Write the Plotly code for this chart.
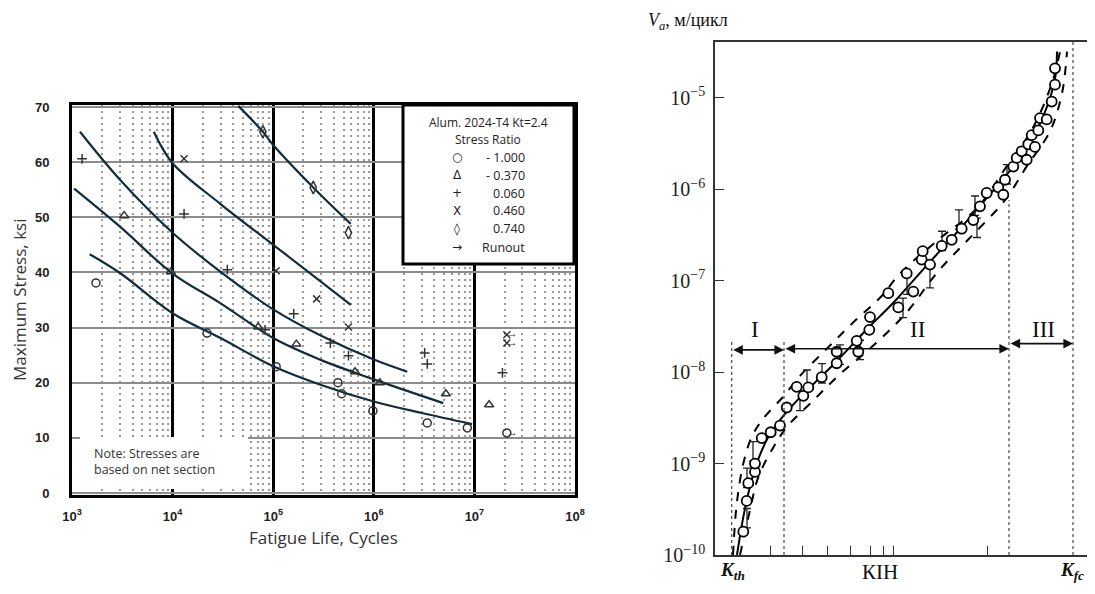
import numpy as np
import plotly.graph_objects as go

# ---------------- Left chart data (S-N, Alum. 2024-T4, Kt=2.4) ----------------
life_r_m100 = [1.73e3, 2.2e4, 1.07e5, 4.4e5, 4.8e5, 9.8e5, 3.4e6, 8.5e6, 2.1e7]
stress_r_m100 = [38.1, 29.0, 22.9, 20.0, 18.0, 14.9, 12.7, 11.8, 10.9]

life_r_m037 = [3.3e3, 9.6e3, 7.1e4, 1.7e5, 6.5e5, 1.15e6, 5.2e6, 1.4e7]
stress_r_m037 = [50.3, 40.1, 30.1, 27.0, 22.0, 20.0, 18.0, 16.0]

life_r_006 = [1.26e3, 1.3e4, 3.5e4, 8.3e4, 1.6e5, 3.7e5, 5.6e5, 3.2e6, 3.4e6, 1.9e7]
stress_r_006 = [60.6, 50.6, 40.5, 29.6, 32.5, 27.2, 24.9, 25.4, 23.4, 21.8]

life_r_046 = [1.3e4, 1.07e5, 2.7e5, 5.6e5, 2.1e7, 2.1e7]
stress_r_046 = [60.6, 40.3, 35.2, 30.1, 28.7, 27.2]

life_r_074 = [7.9e4, 2.5e5, 5.6e5]
stress_r_074 = [65.5, 55.4, 47.2]

runout_life = [2.1e7, 2.1e7, 2.1e7]
runout_stress = [28.7, 27.2, 10.9]

# fitted curves
curve_r074_life = [4.5e4, 7.9e4, 1e5, 2.5e5, 5.9e5]
curve_r074_stress = [70.2, 65.5, 63.1, 55.4, 48.8]
curve_r046_life = [6.5e3, 1e4, 3e4, 1e5, 3e5, 5.9e5]
curve_r046_stress = [65.5, 59.8, 52.4, 45.0, 38.3, 34.1]
curve_r006_life = [1.2e3, 3e3, 1e4, 3e4, 1e5, 3e5, 1e6, 2.15e6]
curve_r006_stress = [65.5, 56.8, 47.2, 40.1, 33.3, 28.5, 24.2, 22.0]
curve_rm037_life = [1.05e3, 3e3, 1e4, 3e4, 1e5, 3e5, 1e6, 4.9e6]
curve_rm037_stress = [55.2, 48.3, 39.8, 34.4, 28.1, 24.1, 20.6, 16.3]
curve_rm100_life = [1.5e3, 3e3, 1e4, 3e4, 1e5, 3e5, 1e6, 3e6, 9.5e6]
curve_rm100_stress = [43.3, 39.9, 32.6, 28.1, 23.0, 19.6, 16.6, 14.5, 12.5]

stress_ticks = [0, 10, 20, 30, 40, 50, 60, 70]
life_ticks = [1e3, 1e4, 1e5, 1e6, 1e7, 1e8]
life_tick_text = ["<b>10<sup>3</sup></b>", "<b>10<sup>4</sup></b>", "<b>10<sup>5</sup></b>",
                  "<b>10<sup>6</sup></b>", "<b>10<sup>7</sup></b>", "<b>10<sup>8</sup></b>"]

legend_symbols = ["○", "Δ", "+", "X", "◊", "→"]
legend_values = ["- 1.000", "- 0.370", "0.060", "0.460", "0.740", "Runout"]

# ---------------- Right chart data (crack growth rate vs KIH) ----------------
dk_points = [2.83, 3.17, 3.33, 4.0, 4.0, 4.67, 5.57, 6.5, 7.17, 8.17, 8.83, 9.33, 10.67,
             12.17, 12.17, 14.17, 14.33, 15.43, 15.5, 17.33, 18.33, 19.83, 19.17, 20.67,
             20.77, 21.5, 22.67, 23.67, 24.67, 25.83, 26.5, 27.17, 28.33, 28.83, 29.0,
             29.83, 30.17, 30.67, 31.17, 31.33, 31.67, 32.0, 32.33, 32.5, 33.17, 33.67,
             34.0, 34.0]
rate_points = [1.8e-10, 3.9e-10, 6.1e-10, 8.1e-10, 1.0e-9, 1.9e-9, 2.2e-9, 2.6e-9, 4.1e-9,
               6.9e-9, 5.5e-9, 6.8e-9, 8.8e-9, 1.25e-8, 1.67e-8, 2.2e-8, 1.67e-8, 2.9e-8,
               4.0e-8, 7.3e-8, 5.1e-8, 7.6e-8, 1.2e-7, 1.7e-7, 2.1e-7, 1.5e-7, 2.4e-7,
               2.8e-7, 3.7e-7, 4.6e-7, 6.5e-7, 9.1e-7, 1.05e-6, 8.7e-7, 1.27e-6, 1.77e-6,
               2.2e-6, 2.6e-6, 2.1e-6, 3.1e-6, 3.9e-6, 2.9e-6, 4.4e-6, 6.0e-6, 5.8e-6,
               9.1e-6, 1.39e-5, 2.1e-5]

dk_errbars = [3.2, 3.2, 3.8, 8.5, 9.2, 10.7, 12.5, 14.5, 18.8, 19.2, 21.5, 22.7, 24.4,
              26.0, 26.2, 29.2]
rate_errbars = [2.6e-10, 7.2e-10, 1.4e-9, 5.0e-9, 8.5e-9, 1.0e-8, 1.6e-8, 1.8e-8, 5.2e-8,
                9.3e-8, 1.1e-7, 2.8e-7, 4.8e-7, 6.8e-7, 3.9e-7, 1.5e-6]

mean_dk = [2.2, 2.8, 3.5, 4.3, 5.5, 7.0, 9.0, 12.0, 15.0, 18.0, 21.0, 24.0, 27.0, 29.5,
           31.5, 33.0, 34.0, 34.2]
mean_rate = [1e-10, 2.5e-10, 5.6e-10, 1.1e-9, 2.1e-9, 3.5e-9, 6e-9, 1.26e-8, 2.8e-8, 6e-8,
             1.4e-7, 3.2e-7, 7.6e-7, 1.6e-6, 3.2e-6, 7e-6, 1.6e-5, 3.2e-5]

upper_dk = [1.8, 2.17, 2.83, 3.67, 4.83, 6.83, 8.5, 11.17, 13.83, 16.67, 18.5, 22.5, 26.2,
            29.2, 31.7, 33.7, 34.5]
upper_rate = [1e-10, 3.6e-10, 1e-9, 1.95e-9, 3.1e-9, 5.4e-9, 9.1e-9, 1.8e-8, 3.5e-8, 6.8e-8,
              1.2e-7, 2.9e-7, 6.2e-7, 1.8e-6, 4.5e-6, 1.45e-5, 3.2e-5]

lower_dk = [2.5, 3.5, 4.33, 5.83, 7.17, 9.83, 12.5, 15.83, 19.17, 22.3, 25.3, 29.0, 31.2,
            33.5, 34.7, 35.2]
lower_rate = [1e-10, 3.1e-10, 7.1e-10, 1.5e-9, 2.5e-9, 4.9e-9, 9.5e-9, 1.95e-8, 4.5e-8,
              1.26e-7, 2.8e-7, 7.6e-7, 1.8e-6, 4.3e-6, 1.12e-5, 3.2e-5]

region_bounds = [1.67, 6.9, 29.4, 35.8]           # K_th, I/II, II/III, K_fc
region_line_tops = [2.2e-8, 2.3e-8, 7.6e-7]        # upper ends of the dotted bounds
region_arrow_rate = [1.75e-8, 1.8e-8, 2.05e-8]     # level of the arrows
region_labels = ["I", "II", "III"]
region_label_x = [4.0, 20.2, 32.8]
region_label_rate = 2.9e-8
rate_floor = 1e-10

rate_ticks = [1e-10, 1e-9, 1e-8, 1e-7, 1e-6, 1e-5]
rate_tick_text = ["10<sup>−10</sup>", "10<sup>−9</sup>", "10<sup>−8</sup>",
                  "10<sup>−7</sup>", "10<sup>−6</sup>", "10<sup>−5</sup>"]
kih_minor_ticks = [5.5, 8.7, 11.2, 13.5, 15.5, 16.8, 17.8, 27.2]

# ---------------- Figure geometry ----------------
# The page puts the figure 8 px in from the window corner; keep it small enough
# that no scrollbar appears.
OFF = 8
W, H = 1095 - 2 * OFF, 594 - 2 * OFF


def PX(px):
    return min(1.0, (px - OFF) / W)


def PY(py):
    return max(0.0, 1 - (py - OFF) / H)


# right chart x range chosen so that 10 px = 1 unit, starting at px 715
RX0, RX1 = 715, OFF + W
kih_range = [0, (RX1 - RX0) / 10.0]

fig = go.Figure()

CURVE = "#0f2d3d"
MK = "#333333"
curves = [(curve_r074_life, curve_r074_stress), (curve_r046_life, curve_r046_stress),
          (curve_r006_life, curve_r006_stress), (curve_rm037_life, curve_rm037_stress),
          (curve_rm100_life, curve_rm100_stress)]
for lx, ly in curves:
    fig.add_trace(go.Scatter(x=lx, y=ly, mode="lines", line=dict(color=CURVE, width=2.2, shape="spline"),
                             xaxis="x", yaxis="y", showlegend=False, hoverinfo="skip"))

series = [(life_r_m100, stress_r_m100, "circle-open", 8),
          (life_r_m037, stress_r_m037, "triangle-up-open", 8),
          (life_r_006, stress_r_006, "cross-thin-open", 7),
          (life_r_046, stress_r_046, "x-thin-open", 7),
          (life_r_074, stress_r_074, "diamond-tall-open", 9)]
for lx, ly, sym, sz in series:
    fig.add_trace(go.Scatter(x=lx, y=ly, mode="markers",
                             marker=dict(symbol=sym, size=sz, color=MK, line=dict(color=MK, width=1.5)),
                             xaxis="x", yaxis="y", showlegend=False))

fig.add_trace(go.Scatter(x=runout_life, y=runout_stress, mode="text", text=["→"] * len(runout_life),
                         textposition="middle right", textfont=dict(size=11, color=MK),
                         xaxis="x", yaxis="y", showlegend=False))

# Right chart traces
fig.add_trace(go.Scatter(x=upper_dk, y=upper_rate, mode="lines",
                         line=dict(color="black", width=2, dash="dash", shape="spline"),
                         xaxis="x2", yaxis="y2", showlegend=False))
fig.add_trace(go.Scatter(x=lower_dk, y=lower_rate, mode="lines",
                         line=dict(color="black", width=2, dash="dash", shape="spline"),
                         xaxis="x2", yaxis="y2", showlegend=False))
fig.add_trace(go.Scatter(x=mean_dk, y=mean_rate, mode="lines",
                         line=dict(color="black", width=2, shape="spline"),
                         xaxis="x2", yaxis="y2", showlegend=False))
fig.add_trace(go.Scatter(x=dk_errbars, y=rate_errbars, mode="markers",
                         marker=dict(size=1, color="rgba(0,0,0,0)"),
                         error_y=dict(type="percent", value=24, color="#222", thickness=1.3, width=4),
                         xaxis="x2", yaxis="y2", showlegend=False))
fig.add_trace(go.Scatter(x=dk_points, y=rate_points, mode="markers",
                         marker=dict(symbol="circle", size=10, color="white", line=dict(color="black", width=1.8)),
                         xaxis="x2", yaxis="y2", showlegend=False))

# dotted region boundaries
for xb, ytop in zip(region_bounds[:3], region_line_tops):
    fig.add_trace(go.Scatter(x=[xb, xb], y=[rate_floor, ytop], mode="lines",
                             line=dict(color="#444", width=1.2, dash="dot"),
                             xaxis="x2", yaxis="y2", showlegend=False, hoverinfo="skip"))

# ---------------- Layout ----------------
fig.update_layout(
    width=W, height=H, autosize=False,
    margin=dict(l=0, r=0, t=0, b=0, pad=0, autoexpand=False),
    paper_bgcolor="white", plot_bgcolor="white",
    showlegend=False,
    xaxis=dict(domain=[PX(72), PX(575)], anchor="y", type="log", range=[3, 8], automargin=False,
               tickmode="array", tickvals=life_ticks, ticktext=life_tick_text,
               tickfont=dict(family="Liberation Sans", size=13, color="#222"),
               ticks="", ticklabelstandoff=7,
               showgrid=True, gridcolor="black", gridwidth=3,
               minor=dict(dtick="D1", showgrid=True, gridcolor="#9a9a9a", gridwidth=1.6,
                          griddash="2px,4px", ticks=""),
               showline=True, linecolor="black", linewidth=3, mirror=True, zeroline=False),
    yaxis=dict(domain=[PY(495), PY(105)], anchor="x", range=[-0.36, 70.36], automargin=False,
               tickmode="array", tickvals=stress_ticks,
               ticktext=["<b>%d</b>" % v for v in stress_ticks],
               tickfont=dict(family="Liberation Sans", size=13, color="#222"),
               ticks="", ticklabelstandoff=17,
               showgrid=True, gridcolor="#8c8c8c", gridwidth=2,
               showline=True, linecolor="black", linewidth=3, mirror=True, zeroline=False),
    xaxis2=dict(domain=[PX(RX0), PX(RX1)], anchor="y2", range=kih_range, automargin=False,
                tickmode="array", tickvals=kih_minor_ticks, showticklabels=False,
                ticks="inside", ticklen=9, tickwidth=1.3, tickcolor="#333",
                showgrid=False, zeroline=False,
                showline=True, linecolor="#333", linewidth=1.5, mirror=True),
    yaxis2=dict(domain=[PY(555), PY(42)], anchor="x2", type="log", range=[-10, -4.39], automargin=False,
                tickmode="array", tickvals=rate_ticks, ticktext=rate_tick_text,
                tickfont=dict(family="Liberation Serif", size=20, color="#222"),
                ticks="inside", ticklen=9, tickwidth=1.3, tickcolor="#333",
                ticklabelstandoff=4,
                showgrid=False, zeroline=False,
                showline=True, linecolor="#333", linewidth=1.5),
)

shapes = []
# note box (white) and legend box (framed)
shapes.append(dict(type="rect", xref="paper", yref="paper", x0=PX(80), x1=PX(248),
                   y0=PY(489), y1=PY(437), fillcolor="white", line=dict(width=0), layer="above"))
shapes.append(dict(type="rect", xref="paper", yref="paper", x0=PX(403), x1=PX(574),
                   y0=PY(264), y1=PY(105), fillcolor="white",
                   line=dict(color="black", width=3), layer="above"))
# K_fc dotted line across the full height
shapes.append(dict(type="line", xref="x2", yref="y2 domain", x0=region_bounds[3], x1=region_bounds[3],
                   y0=0, y1=1, line=dict(color="#444", width=1.2, dash="dot")))
fig.update_layout(shapes=shapes)

ann = []
FONT_L = "Open Sans"


def txt(text, x, y, size, family=FONT_L, color="#222", xanchor="center", yanchor="middle",
        xref="paper", yref="paper", **kw):
    return dict(text=text, x=x, y=y, xref=xref, yref=yref, xanchor=xanchor, yanchor=yanchor,
                showarrow=False, font=dict(family=family, size=size, color=color), **kw)


ann.append(txt("Maximum Stress, ksi", PX(19), PY(300), 17, color="#333", textangle=-90))
ann.append(txt("Fatigue Life, Cycles", PX(323), PY(537), 17, color="#333"))
ann.append(txt("Note: Stresses are<br>based on net section", PX(92), PY(461), 12.5, color="#333",
               xanchor="left", align="left"))
ann.append(txt("Alum. 2024-T4 Kt=2.4", PX(488), PY(122), 12))
ann.append(txt("Stress Ratio", PX(488), PY(139), 12))
for i, (s, v) in enumerate(zip(legend_symbols, legend_values)):
    yy = PY(157 + 18 * i)
    ann.append(txt(s, PX(457), yy, 12, family="DejaVu Sans"))
    ann.append(txt(v, PX(527), yy, 12.5, xanchor="right"))

# right chart texts
ann.append(txt("<i>V<sub>a</sub></i>, м/цикл", PX(646), PY(21), 18, family="Liberation Serif",
               color="#111", xanchor="left"))
ann.append(txt("<b><i>K<sub>th</sub></i></b>", 1.7, PY(571), 19, family="Liberation Serif",
               color="#111", xref="x2"))
ann.append(txt("КІН", 16.5, PY(572), 21, family="Liberation Serif", color="#111", xref="x2"))
ann.append(txt("<b><i>K<sub>fc</sub></i></b>", PX(1086), PY(571), 19, family="Liberation Serif",
               color="#111", xanchor="right"))
for i in range(3):
    x_a, x_b = region_bounds[i], region_bounds[i + 1]
    ylev = np.log10(region_arrow_rate[i])
    ann.append(dict(text="", xref="x2", yref="y2", x=x_b, y=ylev, axref="x2", ayref="y2",
                    ax=x_a, ay=ylev, showarrow=True, arrowhead=2, arrowside="end+start",
                    arrowsize=1.2, arrowwidth=1.6, arrowcolor="#111", standoff=0, startstandoff=0))
    ann.append(txt(region_labels[i], region_label_x[i], np.log10(region_label_rate), 23,
                   family="Liberation Serif", color="#111", xref="x2", yref="y2"))
fig.update_layout(annotations=ann)

fig.write_html("out.html")
